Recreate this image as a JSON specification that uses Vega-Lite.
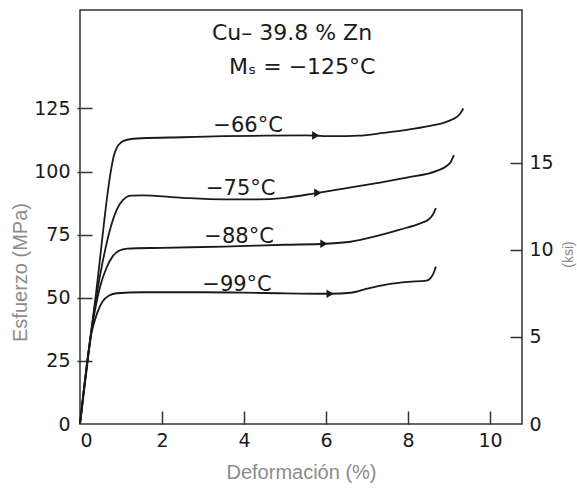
{
  "$schema": "https://vega.github.io/schema/vega-lite/v6.json",
  "width": 442,
  "height": 414,
  "autosize": {"type": "none"},
  "padding": {"left": 80, "top": 10, "right": 55, "bottom": 69},
  "background": "white",
  "config": {
    "view": {"stroke": "#333", "strokeWidth": 1.5},
    "axis": {"grid": false, "domain": false, "tickColor": "#333", "tickWidth": 1.5,
             "labelFont": "DejaVu Sans", "labelFontSize": 19, "labelColor": "#1a1a1a",
             "titleFont": "Liberation Sans", "titleFontSize": 20, "titleColor": "#8c8c8c", "titleFontWeight": "normal"}
  },
  "datasets": {
    "curves": [
      {"curve": "-66", "x": 0, "y": 0}, {"curve": "-66", "x": 0.4, "y": 53}, {"curve": "-66", "x": 0.75, "y": 100},
      {"curve": "-66", "x": 0.82, "y": 106}, {"curve": "-66", "x": 0.9, "y": 109.5}, {"curve": "-66", "x": 1.0, "y": 111.5},
      {"curve": "-66", "x": 1.15, "y": 112.6}, {"curve": "-66", "x": 1.5, "y": 113.2}, {"curve": "-66", "x": 2.5, "y": 113.6},
      {"curve": "-66", "x": 3.5, "y": 114}, {"curve": "-66", "x": 4.5, "y": 114.2}, {"curve": "-66", "x": 5.5, "y": 114.3},
      {"curve": "-66", "x": 6.2, "y": 114}, {"curve": "-66", "x": 6.8, "y": 114.2}, {"curve": "-66", "x": 7.4, "y": 115.3},
      {"curve": "-66", "x": 8, "y": 116.6}, {"curve": "-66", "x": 8.5, "y": 118}, {"curve": "-66", "x": 8.9, "y": 119.5},
      {"curve": "-66", "x": 9.1, "y": 120.8}, {"curve": "-66", "x": 9.25, "y": 122.5}, {"curve": "-66", "x": 9.35, "y": 125},
      {"curve": "-75", "x": 0, "y": 0}, {"curve": "-75", "x": 0.3, "y": 40}, {"curve": "-75", "x": 0.55, "y": 64},
      {"curve": "-75", "x": 0.75, "y": 78}, {"curve": "-75", "x": 0.9, "y": 85}, {"curve": "-75", "x": 1.05, "y": 88.8},
      {"curve": "-75", "x": 1.25, "y": 90.5}, {"curve": "-75", "x": 1.5, "y": 90.6}, {"curve": "-75", "x": 2.5, "y": 89.6},
      {"curve": "-75", "x": 3.5, "y": 89}, {"curve": "-75", "x": 4.3, "y": 89}, {"curve": "-75", "x": 5, "y": 89.6},
      {"curve": "-75", "x": 5.8, "y": 91.6}, {"curve": "-75", "x": 6.5, "y": 93.4}, {"curve": "-75", "x": 7.2, "y": 95.3},
      {"curve": "-75", "x": 8, "y": 97.7}, {"curve": "-75", "x": 8.7, "y": 100.3}, {"curve": "-75", "x": 8.95, "y": 102.3},
      {"curve": "-75", "x": 9.05, "y": 104}, {"curve": "-75", "x": 9.12, "y": 106.5},
      {"curve": "-88", "x": 0, "y": 0}, {"curve": "-88", "x": 0.3, "y": 39}, {"curve": "-88", "x": 0.5, "y": 55},
      {"curve": "-88", "x": 0.65, "y": 62}, {"curve": "-88", "x": 0.8, "y": 66.5}, {"curve": "-88", "x": 0.95, "y": 68.6},
      {"curve": "-88", "x": 1.15, "y": 69.5}, {"curve": "-88", "x": 2, "y": 69.8}, {"curve": "-88", "x": 3.5, "y": 70.3},
      {"curve": "-88", "x": 5, "y": 71}, {"curve": "-88", "x": 6, "y": 71.4}, {"curve": "-88", "x": 6.6, "y": 72.2},
      {"curve": "-88", "x": 7.2, "y": 74.3}, {"curve": "-88", "x": 7.8, "y": 77}, {"curve": "-88", "x": 8.3, "y": 79.5},
      {"curve": "-88", "x": 8.5, "y": 81}, {"curve": "-88", "x": 8.6, "y": 82.8}, {"curve": "-88", "x": 8.68, "y": 85.5},
      {"curve": "-99", "x": 0, "y": 0}, {"curve": "-99", "x": 0.28, "y": 36}, {"curve": "-99", "x": 0.42, "y": 44},
      {"curve": "-99", "x": 0.55, "y": 48.5}, {"curve": "-99", "x": 0.7, "y": 50.8}, {"curve": "-99", "x": 0.9, "y": 51.8},
      {"curve": "-99", "x": 1.5, "y": 52.2}, {"curve": "-99", "x": 3, "y": 52.2}, {"curve": "-99", "x": 4.5, "y": 51.9},
      {"curve": "-99", "x": 6.1, "y": 51.6}, {"curve": "-99", "x": 6.6, "y": 52}, {"curve": "-99", "x": 7, "y": 53.6},
      {"curve": "-99", "x": 7.5, "y": 55.3}, {"curve": "-99", "x": 8, "y": 56.3}, {"curve": "-99", "x": 8.45, "y": 56.8},
      {"curve": "-99", "x": 8.55, "y": 57.8}, {"curve": "-99", "x": 8.63, "y": 60}, {"curve": "-99", "x": 8.68, "y": 62.4}
    ],
    "arrows": [
      {"curve": "-66", "x": 5.75, "y": 114.3},
      {"curve": "-75", "x": 5.8, "y": 91.6},
      {"curve": "-88", "x": 5.95, "y": 71.4},
      {"curve": "-99", "x": 6.1, "y": 51.6}
    ],
    "labels": [
      {"t": "−66°C", "x": 4.1, "y": 118},
      {"t": "−75°C", "x": 3.92, "y": 93},
      {"t": "−88°C", "x": 3.88, "y": 74},
      {"t": "−99°C", "x": 3.83, "y": 55}
    ],
    "heads": [
      {"t": "Cu– 39.8 % Zn", "x": 5.17, "y": 155},
      {"t": "Mₛ = −125°C", "x": 5.42, "y": 141.5}
    ],
    "ksi": [{"ksi": 0}, {"ksi": 15}]
  },
  "layer": [
    {
      "layer": [
        {
          "data": {"name": "curves"},
          "mark": {"type": "line", "color": "#1a1a1a", "strokeWidth": 1.8, "interpolate": "monotone"},
          "encoding": {
            "x": {"field": "x", "type": "quantitative", "scale": {"domain": [0, 10.78], "nice": false, "zero": false},
                  "axis": {"orient": "bottom", "values": [0, 2, 4, 6, 8, 10], "ticks": false, "labelPadding": 7, "title": "Deformación (%)", "titlePadding": 12}},
            "y": {"field": "y", "type": "quantitative", "scale": {"domain": [0, 164], "nice": false},
                  "axis": {"orient": "left", "values": [0, 25, 50, 75, 100, 125], "ticks": false, "labelPadding": 10, "title": "Esfuerzo (MPa)",
                           "titleX": -60, "titleY": 262, "titleAlign": "center", "titleBaseline": "middle", "titleAngle": 270}},
            "detail": {"field": "curve"}
          }
        },
        {
          "data": {"name": "arrows"},
          "mark": {"type": "point", "shape": "triangle-right", "filled": true, "color": "#1a1a1a", "size": 70, "opacity": 1},
          "encoding": {
            "x": {"field": "x", "type": "quantitative",
                  "axis": {"orient": "bottom", "values": [2, 4, 6, 8, 10], "labels": false, "title": null, "ticks": true, "offset": -13, "tickSize": 13}},
            "y": {"field": "y", "type": "quantitative",
                  "axis": {"orient": "left", "values": [25, 50, 75, 100, 125], "labels": false, "title": null, "ticks": true, "offset": -12, "tickSize": 15}}
          }
        },
        {
          "data": {"name": "labels"},
          "mark": {"type": "text", "font": "DejaVu Sans", "fontSize": 21, "color": "#1a1a1a", "align": "center", "baseline": "middle"},
          "encoding": {
            "x": {"field": "x", "type": "quantitative", "axis": null},
            "y": {"field": "y", "type": "quantitative", "axis": null},
            "text": {"field": "t"}
          }
        },
        {
          "data": {"name": "heads"},
          "mark": {"type": "text", "font": "DejaVu Sans", "fontSize": 22, "color": "#1a1a1a", "align": "center", "baseline": "middle"},
          "encoding": {
            "x": {"field": "x", "type": "quantitative", "axis": null},
            "y": {"field": "y", "type": "quantitative", "axis": null},
            "text": {"field": "t"}
          }
        }
      ],
      "resolve": {"axis": {"x": "independent", "y": "independent"}}
    },
    {
      "layer": [
        {
          "data": {"name": "ksi"},
          "mark": {"type": "point", "opacity": 0},
          "encoding": {
            "y": {"field": "ksi", "type": "quantitative", "scale": {"domain": [0, 23.79], "nice": false},
                  "axis": {"orient": "right", "values": [0, 5, 10, 15], "ticks": false, "labelPadding": 7, "title": "(ksi)", "titleFontSize": 14,
                           "titleX": 46, "titleY": 244, "titleAlign": "center", "titleBaseline": "middle", "titleAngle": 270}}
          }
        },
        {
          "data": {"name": "ksi"},
          "mark": {"type": "point", "opacity": 0},
          "encoding": {
            "y": {"field": "ksi", "type": "quantitative",
                  "axis": {"orient": "right", "values": [5, 10, 15], "labels": false, "title": null, "ticks": true, "offset": -12, "tickSize": 12}}
          }
        }
      ],
      "resolve": {"axis": {"y": "independent"}}
    }
  ],
  "resolve": {"scale": {"y": "independent"}, "axis": {"x": "independent", "y": "independent"}}
}
